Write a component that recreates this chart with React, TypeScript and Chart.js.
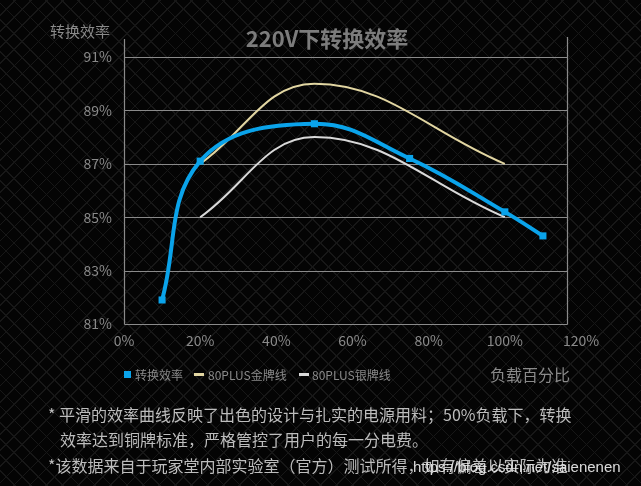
import React, { useEffect, useRef } from "react";
import { Chart, registerables } from "chart.js";

Chart.register(...registerables);

// ---- data ----
const EFF_LOAD = [10, 20, 50, 75, 100, 110];
const EFF_VALUES = [81.9, 87.1, 88.5, 87.2, 85.2, 84.3];
const GOLD_LOAD = [20, 50, 100];
const GOLD_VALUES = [87, 90, 87];
const SILVER_LOAD = [20, 50, 100];
const SILVER_VALUES = [85, 88, 85];

const X_MIN = 0;
const X_MAX = 120;
const X_STEP = 20;
const Y_MIN = 81;
const Y_MAX = 91;
const Y_STEP = 2;
const FRAME_RIGHT = 116.3; // where the drawn frame ends (percent of load)

const SERIES_NAMES = ["转换效率", "80PLUS金牌线", "80PLUS银牌线"];
const TITLE = "220V下转换效率";
const Y_TITLE = "转换效率";
const X_TITLE = "负载百分比";
const NOTES = [
  "* 平滑的效率曲线反映了出色的设计与扎实的电源用料；50%负载下，转换",
  "效率达到铜牌标准，严格管控了用户的每一分电费。",
  "*该数据来自于玩家堂内部实验室（官方）测试所得，如有偏差以实际为准",
];
const WATERMARK = "https://blog.csdn.net/saienenen";

const BLUE = "#0aa3ea";
const GOLD = "#e2d6a2";
const SILVER = "#d9d9d9";
const GRID = "#8a8a8a";
const LABEL = "#8a8a8a";
const CJK = '"Noto Sans CJK SC", "Noto Sans", sans-serif';

const toPts = (xs: number[], ys: number[]) => xs.map((x, i) => ({ x, y: ys[i] }));

const framePlugin = {
  id: "frame",
  beforeDatasetsDraw(chart: any) {
    const { ctx, scales } = chart;
    const x = scales.x;
    const y = scales.y;
    const left = Math.round(x.getPixelForValue(X_MIN)) + 0.5;
    const right = Math.round(x.getPixelForValue(FRAME_RIGHT)) + 0.5;
    const top = y.getPixelForValue(Y_MAX);
    const bottom = Math.round(y.getPixelForValue(Y_MIN)) + 0.5;
    ctx.save();
    ctx.strokeStyle = GRID;
    ctx.lineWidth = 1.2;
    ctx.beginPath();
    y.ticks.forEach((t: any) => {
      const py = Math.round(y.getPixelForValue(t.value)) + 0.5;
      ctx.moveTo(left, py);
      ctx.lineTo(right, py);
    });
    ctx.moveTo(left, top - 18);
    ctx.lineTo(left, bottom);
    ctx.moveTo(right, top - 20);
    ctx.lineTo(right, bottom);
    ctx.stroke();
    ctx.restore();
  },
};

function Txt(props: {
  x: number;
  y: number;
  size: number;
  color: string;
  align?: "left" | "center";
  family?: string;
  weight?: number;
  children: React.ReactNode;
}) {
  const { x, y, size, color, align = "left", family = CJK, weight = 400 } = props;
  return (
    <div
      style={{
        position: "absolute",
        left: x,
        top: y,
        transform: align === "center" ? "translate(-50%, -50%)" : "translate(0, -50%)",
        fontSize: size,
        lineHeight: 1,
        color,
        fontFamily: family,
        fontWeight: weight,
        whiteSpace: "nowrap",
      }}
    >
      {props.children}
    </div>
  );
}

export default function App() {
  const ref = useRef<HTMLCanvasElement>(null);

  useEffect(() => {
    if (!ref.current) return;
    const chart = new Chart(ref.current, {
      type: "line",
      data: {
        datasets: [
          {
            label: SERIES_NAMES[0],
            data: toPts(EFF_LOAD, EFF_VALUES),
            borderColor: BLUE,
            backgroundColor: BLUE,
            borderWidth: 4,
            tension: 0.4,
            pointStyle: "rect",
            pointRadius: 5,
            pointBorderWidth: 0,
          },
          {
            label: SERIES_NAMES[1],
            data: toPts(GOLD_LOAD, GOLD_VALUES),
            borderColor: GOLD,
            borderWidth: 2,
            tension: 0.4,
            pointRadius: 0,
          },
          {
            label: SERIES_NAMES[2],
            data: toPts(SILVER_LOAD, SILVER_VALUES),
            borderColor: SILVER,
            borderWidth: 2,
            tension: 0.4,
            pointRadius: 0,
          },
        ],
      },
      options: {
        animation: false,
        responsive: false,
        layout: { padding: { left: 0, right: 60, top: 57, bottom: 132 } },
        plugins: { legend: { display: false }, tooltip: { enabled: false }, title: { display: false } },
        scales: {
          x: {
            type: "linear",
            min: X_MIN,
            max: X_MAX,
            grid: { display: false, drawTicks: false },
            border: { display: false },
            ticks: {
              stepSize: X_STEP,
              padding: 8,
              color: LABEL,
              font: { family: CJK, size: 14 },
              callback: (v: any) => v + "%",
            },
            afterFit: (s: any) => {
              s.height = 30;
            },
          },
          y: {
            min: Y_MIN,
            max: Y_MAX,
            grid: { display: false, drawTicks: false },
            border: { display: false },
            ticks: {
              stepSize: Y_STEP,
              padding: 12,
              color: LABEL,
              font: { family: CJK, size: 14 },
              callback: (v: any) => v + "%",
            },
            afterFit: (s: any) => {
              s.width = 124;
            },
          },
        },
      },
      plugins: [framePlugin],
    });
    return () => chart.destroy();
  }, []);

  const pattern =
    "repeating-linear-gradient(45deg, rgba(0,0,0,0) 0px, rgba(0,0,0,0) 10.3px, #171717 10.3px, #171717 11.4px)," +
    "repeating-linear-gradient(-45deg, rgba(0,0,0,0) 0px, rgba(0,0,0,0) 10.3px, #171717 10.3px, #171717 11.4px), #040404";

  return (
    <div
      style={{
        position: "fixed",
        left: 0,
        top: 0,
        width: 641,
        height: 486,
        overflow: "hidden",
        background: pattern,
      }}
    >
      <canvas ref={ref} width={641} height={486} style={{ position: "absolute", left: 0, top: 0 }} />
      <Txt x={327} y={37} size={22} color="#7c7c7c" align="center" weight={700}>{TITLE}</Txt>
      <Txt x={50} y={30} size={15} color={LABEL}>{Y_TITLE}</Txt>
      <Txt x={490} y={374} size={16} color={LABEL}>{X_TITLE}</Txt>

      {/* legend */}
      <div style={{ position: "absolute", left: 124, top: 371, width: 7, height: 7, background: BLUE }} />
      <Txt x={135} y={375} size={12} color={LABEL}>{SERIES_NAMES[0]}</Txt>
      <div style={{ position: "absolute", left: 194, top: 373, width: 10, height: 3, background: GOLD }} />
      <Txt x={208} y={375} size={12} color={LABEL}>{SERIES_NAMES[1]}</Txt>
      <div style={{ position: "absolute", left: 299, top: 373, width: 10, height: 3, background: SILVER }} />
      <Txt x={312} y={375} size={12} color={LABEL}>{SERIES_NAMES[2]}</Txt>

      {/* notes */}
      <Txt x={48} y={414} size={16} color="#bdbdbd">{NOTES[0]}</Txt>
      <Txt x={60} y={439} size={16} color="#bdbdbd">{NOTES[1]}</Txt>
      <Txt x={48} y={465} size={16} color="#bdbdbd">{NOTES[2]}</Txt>
      <Txt x={413} y={466} size={15} color="rgba(235,235,235,0.92)" family='"Liberation Sans", Arial, sans-serif'>
        {WATERMARK}
      </Txt>
    </div>
  );
}
